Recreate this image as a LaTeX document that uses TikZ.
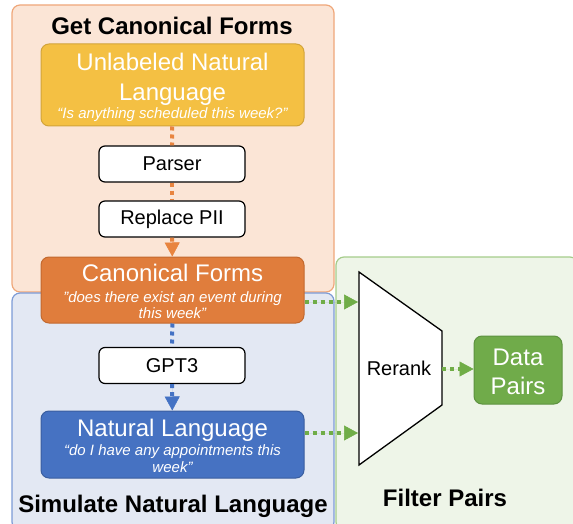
\documentclass[tikz,border=0pt]{standalone}
\usepackage{fontspec}
\setmainfont{Liberation Sans}
\usetikzlibrary{arrows.meta}
\definecolor{grpO}{HTML}{FBE5D6}
\definecolor{grpOb}{HTML}{EFA77A}
\definecolor{grpB}{HTML}{E3E8F3}
\definecolor{grpBb}{HTML}{7C9BD6}
\definecolor{grpG}{HTML}{EEF5E8}
\definecolor{grpGb}{HTML}{A5CC8B}
\definecolor{gold}{HTML}{F4C043}
\definecolor{goldb}{HTML}{D2A43A}
\definecolor{orng}{HTML}{E07D3C}
\definecolor{orngb}{HTML}{C2692F}
\definecolor{blu}{HTML}{4672C2}
\definecolor{blub}{HTML}{3A5E9F}
\definecolor{grn}{HTML}{70AB4A}
\definecolor{grnb}{HTML}{5D9240}
\definecolor{lnO}{HTML}{E8843F}
\definecolor{lnB}{HTML}{4472C4}
\definecolor{lnG}{HTML}{70AD47}
\tikzset{
  group/.style={draw, line width=1.2pt, rounded corners=8pt},
  bigbox/.style={draw, line width=1pt, rounded corners=8pt, minimum width=263pt},
  smallbox/.style={draw=black, fill=white, line width=1.2pt, rounded corners=6pt, minimum width=146pt, minimum height=36pt, font=\fontsize{20}{22}\selectfont},
  wtext/.style={text=white, anchor=base, inner sep=0pt},
  big/.style={font=\fontsize{24}{26}\selectfont},
  quote/.style={font=\fontsize{15}{17}\selectfont\itshape},
  title/.style={anchor=base, inner sep=0pt, font=\fontsize{24}{26}\selectfont\bfseries},
  dots/.style={line width=4pt, dash pattern=on 4pt off 4pt},
  tip/.style={-{Triangle[width=15pt,length=14pt,line width=0.5pt]}}
}
\begin{document}
\begin{tikzpicture}[x=1pt,y=-1pt]
\useasboundingbox (0,0) rectangle (573,524);
% groups
\draw[group, fill=grpO, draw=grpOb] (12,5) rectangle (334,292);
\draw[group, fill=grpB, draw=grpBb] (12,293) rectangle (334,530);
\draw[group, fill=grpG, draw=grpGb] (336,257) rectangle (578,530);
\node[title] (t1) at (172,35) {Get Canonical Forms};
\node[title] (t2) at (173,512) {Simulate Natural Language};
\node[title] (t3) at (445,506) {Filter Pairs};
% big boxes
\node[bigbox, fill=gold, draw=goldb, minimum height=82pt] (unl) at (172.5,85) {};
\node[wtext, big] (unl1) at (172.5,71) {Unlabeled Natural};
\node[wtext, big] (unl2) at (172.5,101) {Language};
\node[wtext, quote] (unl3) at (172.5,119) {“Is anything scheduled this week?”};
\node[smallbox] (parser) at (172,164) {Parser};
\node[smallbox] (pii) at (172,219) {Replace PII};
\node[bigbox, fill=orng, draw=orngb, minimum height=66pt] (canon) at (172.5,290) {};
\node[wtext, big] (can1) at (172.5,281) {Canonical Forms};
\node[wtext, quote] (can2) at (172.5,302) {"does there exist an event during};
\node[wtext, quote] (can3) at (172.5,318) {this week"};
\node[smallbox] (gpt) at (172,365.5) {GPT3};
\node[bigbox, fill=blu, draw=blub, minimum height=67pt] (nl) at (172.5,444.5) {};
\node[wtext, big] (nl1) at (172.5,436) {Natural Language};
\node[wtext, quote] (nl2) at (172.5,455) {“do I have any appointments this};
\node[wtext, quote] (nl3) at (172.5,472) {week”};
% connectors
\draw[dots, draw=lnO] (unl) -- (parser);
\draw[dots, draw=lnO] (parser) -- (pii);
\draw[dots, draw=lnO, tip, fill=lnO] (pii) -- (canon);
\draw[dots, draw=lnB] (canon) -- (gpt);
\draw[dots, draw=lnB, tip, fill=lnB] (gpt) -- (nl);
% rerank trapezoid
\coordinate (r1) at (359,272);
\coordinate (r2) at (442,331);
\coordinate (r3) at (442,405);
\coordinate (r4) at (359,465);
\draw[fill=white, line width=1.3pt, line join=miter] (r1) -- (r2) -- (r3) -- (r4) -- cycle;
\node[anchor=base, inner sep=0pt, font=\fontsize{20}{22}\selectfont] (rerank) at (399,375) {Rerank};
\coordinate (rin1) at (358,302);
\coordinate (rin2) at (358,433);
\coordinate (rout) at (442,369);
\node[draw=grnb, fill=grn, line width=1pt, rounded corners=8pt, minimum width=88pt, minimum height=68pt] (data) at (518,370) {};
\node[wtext, big] (d1) at (518,365) {Data};
\node[wtext, big] (d2) at (518,394) {Pairs};
\draw[dots, draw=lnG, tip, fill=lnG] (canon.east |- rin1) -- (rin1);
\draw[dots, draw=lnG, tip, fill=lnG] (nl.east |- rin2) -- (rin2);
\draw[dots, draw=lnG, tip, fill=lnG] (rout) -- (data.west |- rout);
\end{tikzpicture}
\end{document}
